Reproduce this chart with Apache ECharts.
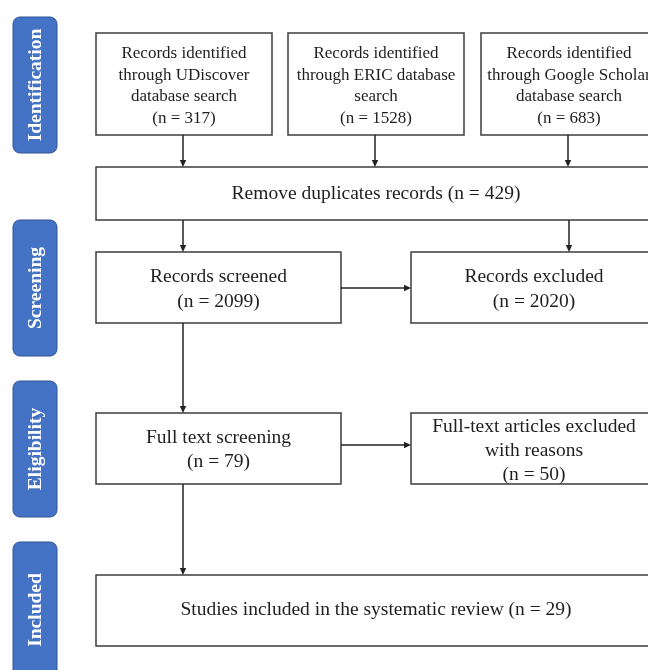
<!DOCTYPE html>
<html>
<head>
<meta charset="utf-8">
<script src="https://cdn.jsdelivr.net/npm/echarts@6/dist/echarts.min.js"></script>
<style>
html,body{margin:0;padding:0;background:#fff;}
#chart{width:648px;height:670px;}
</style>
</head>
<body>
<div id="chart"></div>
<script>
// ---- Data ----
const phaseLabels = ['Identification', 'Screening', 'Eligibility', 'Included'];
const sourceLines = [
  ['Records identified', 'through UDiscover', 'database search'],
  ['Records identified', 'through ERIC database', 'search'],
  ['Records identified', 'through Google Scholar', 'database search']
];
const sourceCounts = [317, 1528, 683];
const duplicatesLabel = 'Remove duplicates records';
const duplicatesCount = 429;
const screenedLabel = ['Records screened'];
const screenedCount = 2099;
const excludedLabel = ['Records excluded'];
const excludedCount = 2020;
const fullTextLabel = ['Full text screening'];
const fullTextCount = 79;
const fullTextExcludedLabel = ['Full-text articles excluded', 'with reasons'];
const fullTextExcludedCount = 50;
const includedLabel = 'Studies included in the systematic review';
const includedCount = 29;

// ---- Layout (positions & styles) ----
const SERIF = '"Liberation Serif", "Times New Roman", serif';
const BORDER = '#3c3c3c';
const phaseRects = [[13, 17, 44, 136], [13, 220, 44, 136], [13, 381, 44, 136], [13, 542, 44, 136]];
const srcX = [96, 288, 481];

const g = [];
function box(x, y, w, h) {
  g.push({type: 'rect', shape: {x: x, y: y, width: w, height: h},
    style: {fill: '#fff', stroke: BORDER, lineWidth: 1.5}, z: 1});
}
function text(str, cx, cy, size, lh) {
  g.push({type: 'text', x: cx, y: cy, z: 3,
    style: {text: str, fill: '#1e1e1e', font: size + 'px ' + SERIF,
      align: 'center', verticalAlign: 'middle', lineHeight: lh}});
}
function arrow(x1, y1, x2, y2) {
  const L = 7, W = 3.2;
  const dx = x2 - x1, dy = y2 - y1, len = Math.hypot(dx, dy);
  const ux = dx / len, uy = dy / len;
  const bx = x2 - ux * L, by = y2 - uy * L;
  g.push({type: 'line', shape: {x1: x1, y1: y1, x2: bx, y2: by},
    style: {stroke: '#222', lineWidth: 1.5}, z: 2});
  g.push({type: 'polygon', shape: {points: [[x2, y2], [bx - uy * W, by + ux * W], [bx + uy * W, by - ux * W]]},
    style: {fill: '#222'}, z: 2});
}

// Phase sidebars
phaseLabels.forEach(function (lab, i) {
  const r = phaseRects[i];
  g.push({type: 'rect', shape: {x: r[0], y: r[1], width: r[2], height: r[3], r: 7},
    style: {fill: '#4472C4', stroke: '#2F5597', lineWidth: 1}, z: 1});
  g.push({type: 'text', x: r[0] + r[2] / 2 + 1, y: r[1] + r[3] / 2, rotation: Math.PI / 2, z: 3,
    style: {text: lab, fill: '#fff', font: 'bold 19.5px ' + SERIF, align: 'center', verticalAlign: 'middle'}});
});

// Source boxes
sourceLines.forEach(function (lines, i) {
  box(srcX[i], 33, 176, 102);
  text(lines.concat(['(n = ' + sourceCounts[i] + ')']).join('\n'), srcX[i] + 88, 86, 17, 21.5);
  arrow(srcX[i] + 87, 135, srcX[i] + 87, 167);
});

// Duplicates
box(96, 167, 560, 53);
text(duplicatesLabel + ' (n = ' + duplicatesCount + ')', 376, 194, 19.5, 24);
arrow(183, 220, 183, 252);
arrow(569, 220, 569, 252);

// Screening
box(96, 252, 245, 71);
text(screenedLabel.concat(['(n = ' + screenedCount + ')']).join('\n'), 218.5, 289, 19.5, 25);
box(411, 252, 246, 71);
text(excludedLabel.concat(['(n = ' + excludedCount + ')']).join('\n'), 534, 289, 19.5, 25);
arrow(341, 288, 411, 288);
arrow(183, 323, 183, 413);

// Eligibility
box(96, 413, 245, 71);
text(fullTextLabel.concat(['(n = ' + fullTextCount + ')']).join('\n'), 218.5, 450, 19.5, 24);
box(411, 413, 246, 71);
text(fullTextExcludedLabel.concat(['(n = ' + fullTextExcludedCount + ')']).join('\n'), 534, 451, 19.5, 24);
arrow(341, 445, 411, 445);
arrow(183, 484, 183, 575);

// Included
box(96, 575, 560, 71);
text(includedLabel + ' (n = ' + includedCount + ')', 376, 610, 19.5, 24);

const chart = echarts.init(document.getElementById('chart'), null, {renderer: 'canvas'});
chart.setOption({backgroundColor: '#fff', animation: false, graphic: {elements: g}});
</script>
</body>
</html>
